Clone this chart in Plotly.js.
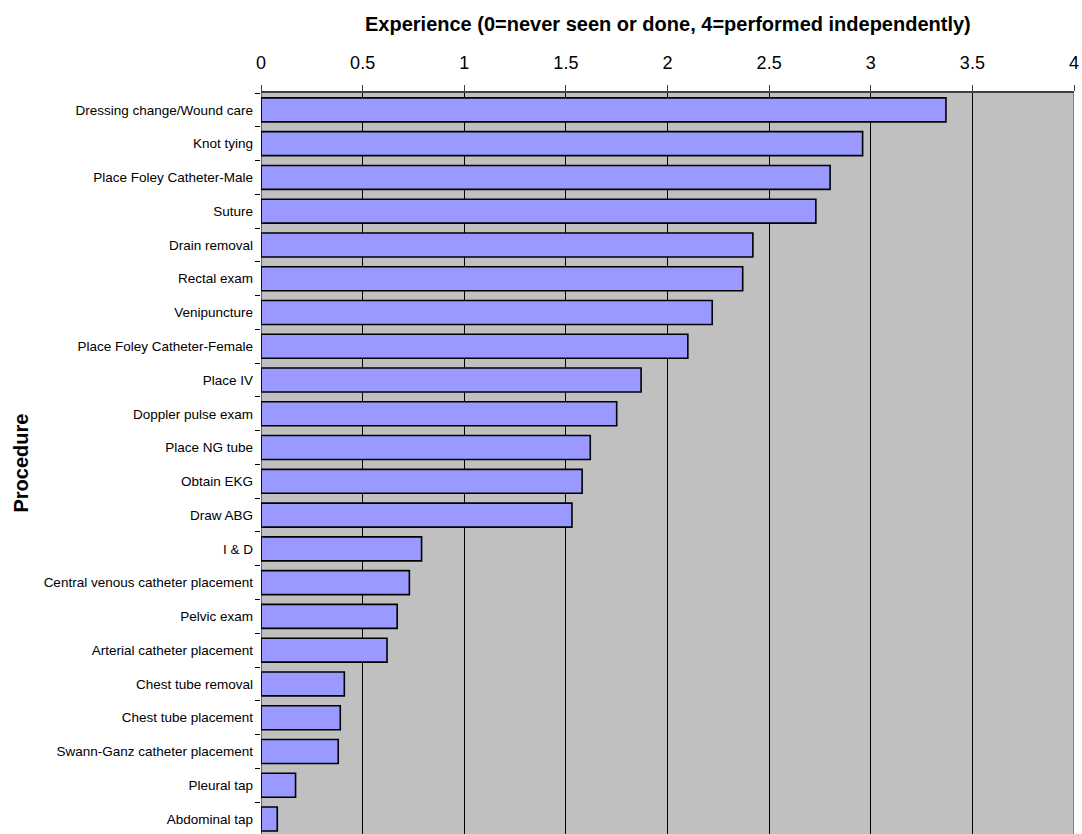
<!DOCTYPE html>
<html><head><meta charset="utf-8">
<script src="https://cdn.plot.ly/plotly-3.0.1.min.js"></script>
<style>body{margin:0;padding:0;background:#fff}#chart{width:1082px;height:834px}</style>
</head><body><div id="chart"></div>
<script>
const procedures = [
  "Dressing change/Wound care","Knot tying","Place Foley Catheter-Male","Suture","Drain removal",
  "Rectal exam","Venipuncture","Place Foley Catheter-Female","Place IV","Doppler pulse exam",
  "Place NG tube","Obtain EKG","Draw ABG","I & D","Central venous catheter placement",
  "Pelvic exam","Arterial catheter placement","Chest tube removal","Chest tube placement",
  "Swann-Ganz catheter placement","Pleural tap","Abdominal tap"
];
const experience = [3.37,2.96,2.80,2.73,2.42,2.37,2.22,2.10,1.87,1.75,1.62,1.58,1.53,0.79,0.73,0.67,0.62,0.41,0.39,0.38,0.17,0.08];
const xTicks = [0,0.5,1,1.5,2,2.5,3,3.5,4];
const xTitle = 'Experience (0=never seen or done, 4=performed independently)';
const yTitle = 'Procedure';

const yCats = procedures.slice().reverse();
const xVals = experience.slice().reverse();

const FONT = 'Liberation Sans, Arial, sans-serif';
const trace = {
  type:'bar', orientation:'h', y:yCats, x:xVals, width:0.71,
  marker:{color:'#9999FF', line:{color:'#000000', width:1.6}},
  hoverinfo:'skip'
};
const layout = {
  width:1082, height:834,
  margin:{l:261, r:8, t:93, b:0},
  paper_bgcolor:'#ffffff', plot_bgcolor:'#C0C0C0',
  font:{family:FONT, color:'#000'},
  showlegend:false,
  xaxis:{
    side:'top', range:[0,4], tickvals:xTicks, ticktext:xTicks.map(String),
    showgrid:true, gridcolor:'#000000', gridwidth:1,
    zeroline:false, showline:true, linecolor:'#404040', linewidth:2,
    ticks:'outside', ticklen:6, tickcolor:'#404040', tickwidth:1,
    tickfont:{size:18, family:FONT},
    ticklabelstandoff:9,
    fixedrange:true
  },
  yaxis:{
    type:'category', categoryarray:yCats, range:[-0.444, 21.5],
    tickson:'boundaries', ticks:'outside', ticklen:5, tickcolor:'#000', tickwidth:1,
    showgrid:false, zeroline:false, showline:false,
    tickfont:{size:13.5, family:FONT},
    ticklabelstandoff:7,
    fixedrange:true
  },
  annotations:[
    {text:'<b>'+xTitle+'</b>', xref:'paper', yref:'paper', x:0.5, y:1, xanchor:'center', yanchor:'middle',
     yshift:69, showarrow:false, font:{size:20, family:FONT}},
    {text:'<b>'+yTitle+'</b>', xref:'paper', yref:'paper', x:0, y:0.5, xanchor:'center', yanchor:'middle',
     xshift:-241, textangle:-90, showarrow:false, font:{size:20, family:FONT}}
  ],
  shapes:[
    {type:'line', xref:'x', yref:'paper', x0:0, x1:0, y0:0, y1:1, line:{color:'#000', width:1}},
    {type:'line', xref:'x', yref:'paper', x0:4, x1:4, y0:0, y1:1, line:{color:'#808080', width:2}}
  ]
};
Plotly.newPlot('chart',[trace],layout,{displayModeBar:false,staticPlot:true});
</script></body></html>
